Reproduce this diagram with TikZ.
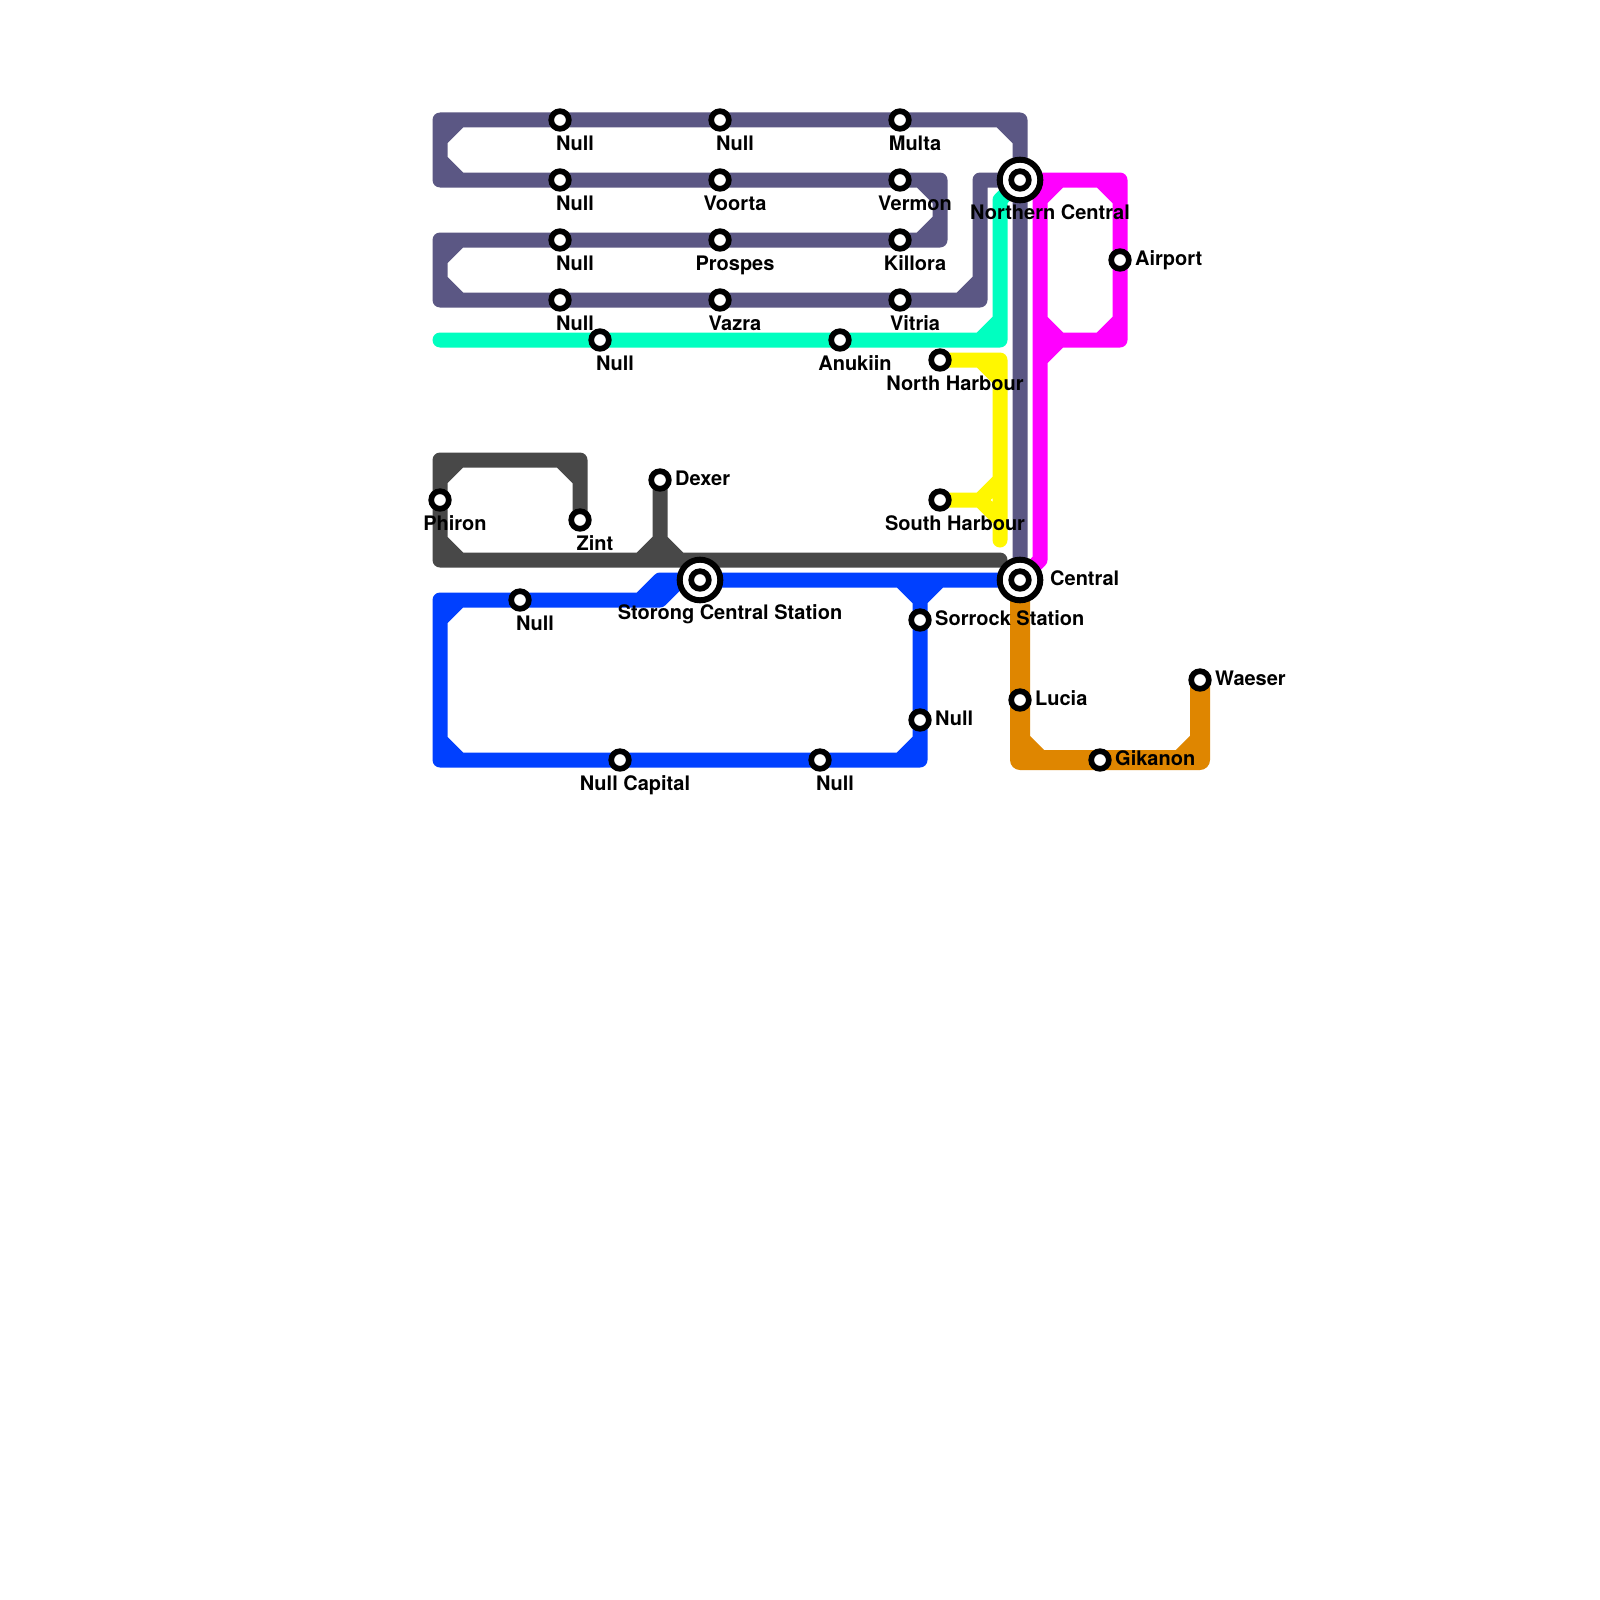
\documentclass[tikz,border=0pt]{standalone}
\usepackage{fontspec}
\setmainfont{TeX Gyre Heros}
\pgfdeclarelayer{lines}
\pgfsetlayers{lines,main}
\definecolor{cpurple}{HTML}{5B5784}
\definecolor{cteal}{HTML}{00FFC0}
\definecolor{cmag}{HTML}{FF00FF}
\definecolor{cyel}{HTML}{FFF700}
\definecolor{cdark}{HTML}{484848}
\definecolor{cblue}{HTML}{0040FF}
\definecolor{corange}{HTML}{DF8600}
\tikzset{
  x=1pt,y=-1pt,
  route/.style={line width=15pt,line cap=round,line join=round},
  routewide/.style={line width=20pt,line cap=round,line join=round},
  halt/.style={circle,draw=black,fill=white,line width=5.7pt,minimum size=17.6pt,inner sep=0pt},
  hub/.style={circle,draw=black,fill=white,line width=6pt,minimum size=40.6pt,inner sep=0pt},
  lblbelow/.style={anchor=base,inner sep=0pt,font=\bfseries\fontsize{20pt}{20pt}\selectfont},
  lblright/.style={anchor=base west,inner sep=0pt,font=\bfseries\fontsize{20pt}{20pt}\selectfont},
}
\begin{document}
\begin{tikzpicture}
\useasboundingbox (0,0) rectangle (1600,1600);
% way points
\foreach \x/\y in {440/120,460/120,1000/120,1020/120,1020/140,
  440/140,440/160,460/180,440/180,920/180,940/180,940/200,940/220,920/240,940/240,
  460/240,440/240,440/260,440/280,460/300,440/300,960/300,980/300,980/280,980/180,
  440/340,980/340,1000/340,1000/320,1000/200,
  1040/180,1060/180,1040/200,1100/180,1120/180,1120/200,1120/320,1120/340,1100/340,1060/340,1040/320,1040/340,1040/360,1040/560,
  1000/360,980/360,1000/380,980/500,1000/480,1000/520,1000/540,
  440/460,460/460,440/480,560/460,580/460,580/480,440/540,440/560,460/560,640/560,660/540,660/560,680/560,1000/560,
  440/600,460/600,440/620,640/600,660/600,660/580,680/580,900/580,920/580,940/580,920/600,
  440/740,440/760,460/760,900/760,920/760,920/740,
  1020/740,1020/760,1040/760,1180/760,1200/760,1200/740}
  \coordinate (w\x-\y) at (\x,\y);
% stations
\node[hub] (ncring) at (1020,180) {};
\node[hub] (cring) at (1020,580) {};
\node[hub] (sring) at (700,580) {};
\node[halt] (nc) at (1020,180) {};
\node[halt] (central) at (1020,580) {};
\node[halt] (storong) at (700,580) {};
\node[halt] (na) at (560,120) {};
\node[halt] (nb) at (720,120) {};
\node[halt] (multa) at (900,120) {};
\node[halt] (nd) at (560,180) {};
\node[halt] (voorta) at (720,180) {};
\node[halt] (vermon) at (900,180) {};
\node[halt] (ne) at (560,240) {};
\node[halt] (prospes) at (720,240) {};
\node[halt] (killora) at (900,240) {};
\node[halt] (nf) at (560,300) {};
\node[halt] (vazra) at (720,300) {};
\node[halt] (vitria) at (900,300) {};
\node[halt] (ng) at (600,340) {};
\node[halt] (anukiin) at (840,340) {};
\node[halt] (nharb) at (940,360) {};
\node[halt] (sharb) at (940,500) {};
\node[halt] (phiron) at (440,500) {};
\node[halt] (zint) at (580,520) {};
\node[halt] (dexer) at (660,480) {};
\node[halt] (nh) at (520,600) {};
\node[halt] (sorrock) at (920,620) {};
\node[halt] (ni) at (920,720) {};
\node[halt] (ncap) at (620,760) {};
\node[halt] (nj) at (820,760) {};
\node[halt] (airport) at (1120,260) {};
\node[halt] (lucia) at (1020,700) {};
\node[halt] (gikanon) at (1100,760) {};
\node[halt] (waeser) at (1200,680) {};
% labels
\node[lblbelow] (lna) at ([shift={(15,30)}]na.center) {Null};
\node[lblbelow] (lnb) at ([shift={(15,30)}]nb.center) {Null};
\node[lblbelow] (lmulta) at ([shift={(15,30)}]multa.center) {Multa};
\node[lblbelow] (lnd) at ([shift={(15,30)}]nd.center) {Null};
\node[lblbelow] (lvoorta) at ([shift={(15,30)}]voorta.center) {Voorta};
\node[lblbelow] (lvermon) at ([shift={(15,30)}]vermon.center) {Vermon};
\node[lblbelow] (lne) at ([shift={(15,30)}]ne.center) {Null};
\node[lblbelow] (lprospes) at ([shift={(15,30)}]prospes.center) {Prospes};
\node[lblbelow] (lkillora) at ([shift={(15,30)}]killora.center) {Killora};
\node[lblbelow] (lnf) at ([shift={(15,30)}]nf.center) {Null};
\node[lblbelow] (lvazra) at ([shift={(15,30)}]vazra.center) {Vazra};
\node[lblbelow] (lvitria) at ([shift={(15,30)}]vitria.center) {Vitria};
\node[lblbelow] (lng) at ([shift={(15,30)}]ng.center) {Null};
\node[lblbelow] (lanukiin) at ([shift={(15,30)}]anukiin.center) {Anukiin};
\node[lblbelow] (lnharb) at ([shift={(15,30)}]nharb.center) {North Harbour};
\node[lblbelow] (lsharb) at ([shift={(15,30)}]sharb.center) {South Harbour};
\node[lblbelow] (lphiron) at ([shift={(15,30)}]phiron.center) {Phiron};
\node[lblbelow] (lzint) at ([shift={(15,30)}]zint.center) {Zint};
\node[lblbelow] (lnh) at ([shift={(15,30)}]nh.center) {Null};
\node[lblbelow] (lncap) at ([shift={(15,30)}]ncap.center) {Null Capital};
\node[lblbelow] (lnj) at ([shift={(15,30)}]nj.center) {Null};
\node[lblbelow] (lnc) at ([shift={(30,39)}]nc.center) {Northern Central};
\node[lblbelow] (lstorong) at ([shift={(30,39)}]storong.center) {Storong Central Station};
\node[lblright] (lcentral) at ([shift={(30,5)}]central.center) {Central};
\node[lblright] (ldexer) at ([shift={(15,5)}]dexer.center) {Dexer};
\node[lblright] (lsorrock) at ([shift={(15,5)}]sorrock.center) {Sorrock Station};
\node[lblright] (lni) at ([shift={(15,5)}]ni.center) {Null};
\node[lblright] (lairport) at ([shift={(15,5)}]airport.center) {Airport};
\node[lblright] (llucia) at ([shift={(15,5)}]lucia.center) {Lucia};
\node[lblright] (lgikanon) at ([shift={(15,5)}]gikanon.center) {Gikanon};
\node[lblright] (lwaeser) at ([shift={(15,5)}]waeser.center) {Waeser};
% routes
\begin{pgfonlayer}{lines}
\fill[white] (0,0) rectangle (1600,1600);
% teal
\draw[route,cteal] (w440-340) -- (ng.center) -- (anukiin.center) -- (w1000-340) -- (w1000-200) -- (nc.center)
  (w980-340) -- (w1000-320);
% yellow
\draw[route,cyel] (nharb.center) -- (w1000-360) -- (w1000-540)
  (w980-360) -- (w1000-380)
  (sharb.center) -- (w980-500) -- (w1000-480)
  (w980-500) -- (w1000-520);
% orange
\draw[routewide,corange] (central.center) -- (lucia.center) -- (w1020-760) -- (gikanon.center) -- (w1200-760) -- (waeser.center)
  (w1020-740) -- (w1040-760)
  (w1180-760) -- (w1200-740);
% blue
\draw[route,cblue] (central.center) -- (w920-580) -- (storong.center) -- (w660-580) -- (w640-600) -- (nh.center) -- (w440-600) -- (w440-760) -- (ncap.center) -- (nj.center) -- (w920-760) -- (ni.center) -- (sorrock.center) -- (w920-580)
  (w640-600) -- (w660-600) -- (w680-580)
  (w440-620) -- (w460-600)
  (w440-740) -- (w460-760)
  (w900-760) -- (w920-740)
  (w900-580) -- (w920-600) -- (w940-580);
% dark grey
\draw[route,cdark] (zint.center) -- (w580-460) -- (w440-460) -- (phiron.center) -- (w440-560) -- (w1000-560)
  (w560-460) -- (w580-480)
  (w440-480) -- (w460-460)
  (w440-540) -- (w460-560)
  (dexer.center) -- (w660-560)
  (w640-560) -- (w660-540) -- (w680-560);
% purple
\draw[route,cpurple] (central.center) -- (nc.center) -- (w1020-120) -- (multa.center) -- (nb.center) -- (na.center) -- (w440-120) -- (w440-180) -- (nd.center) -- (voorta.center) -- (vermon.center) -- (w940-180) -- (w940-240) -- (killora.center) -- (prospes.center) -- (ne.center) -- (w440-240) -- (w440-300) -- (nf.center) -- (vazra.center) -- (vitria.center) -- (w980-300) -- (w980-180) -- (nc.center)
  (w1000-120) -- (w1020-140)
  (w440-140) -- (w460-120)
  (w440-160) -- (w460-180)
  (w920-180) -- (w940-200)
  (w940-220) -- (w920-240)
  (w440-260) -- (w460-240)
  (w440-280) -- (w460-300)
  (w960-300) -- (w980-280);
% magenta
\draw[route,cmag] (nc.center) -- (w1120-180) -- (airport.center) -- (w1120-340) -- (w1040-340)
  (w1040-180) -- (w1040-560) -- (central.center)
  (w1040-200) -- (w1060-180)
  (w1100-180) -- (w1120-200)
  (w1120-320) -- (w1100-340)
  (w1040-320) -- (w1060-340) -- (w1040-360);
\end{pgfonlayer}
\end{tikzpicture}
\end{document}
